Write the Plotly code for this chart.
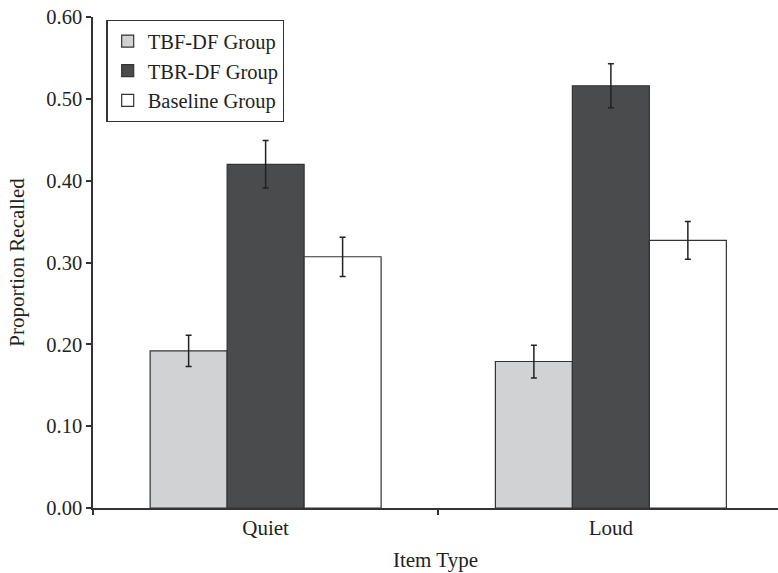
import plotly.graph_objects as go

categories = ["Quiet", "Loud"]
groups = ["TBF-DF Group", "TBR-DF Group", "Baseline Group"]
tbf_df = [0.192, 0.179]
tbr_df = [0.420, 0.516]
baseline = [0.307, 0.327]
tbf_err = [0.019, 0.020]
tbr_err = [0.029, 0.027]
base_err = [0.024, 0.023]
y_ticks = [0.0, 0.1, 0.2, 0.3, 0.4, 0.5, 0.6]

colors = ["#d1d2d4", "#4a4b4d", "#ffffff"]
series = [tbf_df, tbr_df, baseline]
errors = [tbf_err, tbr_err, base_err]

FONT = "Liberation Serif"
INK = "#231f20"

fig = go.Figure()
for name, vals, errs, col in zip(groups, series, errors, colors):
    fig.add_trace(go.Bar(
        name=name, x=categories, y=vals,
        marker=dict(color=col, line=dict(color="#333333", width=1.2)),
        error_y=dict(type="data", array=errs, visible=True,
                     color="#222222", thickness=1.5, width=3),
    ))

W, H = 778, 573
ml, mt, mb = 92.5, 17, 65
plot_w = W - ml
plot_h = H - mt - mb
px_per_cat = 345.5
xr_hi = -0.5 + plot_w / px_per_cat

fig.update_layout(
    width=W, height=H,
    margin=dict(l=ml, r=0, t=mt, b=mb, pad=0),
    paper_bgcolor="white", plot_bgcolor="white",
    barmode="group", bargap=0.331, bargroupgap=0,
    font=dict(family=FONT, size=20, color=INK),
    showlegend=True,
    legend=dict(
        x=(106 - ml) / plot_w, y=(508 - 20) / plot_h,
        xanchor="left", yanchor="top",
        bgcolor="white", bordercolor="#333333", borderwidth=1.2,
        font=dict(family=FONT, size=20.5, color=INK),
        entrywidth=180, entrywidthmode="pixels",
    ),
    xaxis=dict(
        range=[-0.5, xr_hi], type="category",
        showline=True, linecolor="#333333", linewidth=1.5,
        ticks="outside", ticklen=5, tickcolor="#333333", tickwidth=1.5,
        tickson="boundaries", showgrid=False, zeroline=False,
        tickfont=dict(size=21),
        title=dict(text="Item Type", standoff=13, font=dict(size=21)),
        automargin=False,
    ),
    yaxis=dict(
        range=[0, 0.6], tickvals=y_ticks, tickformat=".2f",
        showline=True, linecolor="#333333", linewidth=1.5,
        ticks="outside", ticklen=5, tickcolor="#333333", tickwidth=1.5,
        showgrid=False, zeroline=False, ticklabeloverflow="allow",
        tickfont=dict(size=20.5),
        title=dict(text="Proportion Recalled", standoff=16, font=dict(size=21)),
        automargin=False,
    ),
)

fig.write_html(
    "out.html",
    config={"displayModeBar": False},
    post_script="document.body.style.margin='0';document.body.style.overflow='hidden';",
)
